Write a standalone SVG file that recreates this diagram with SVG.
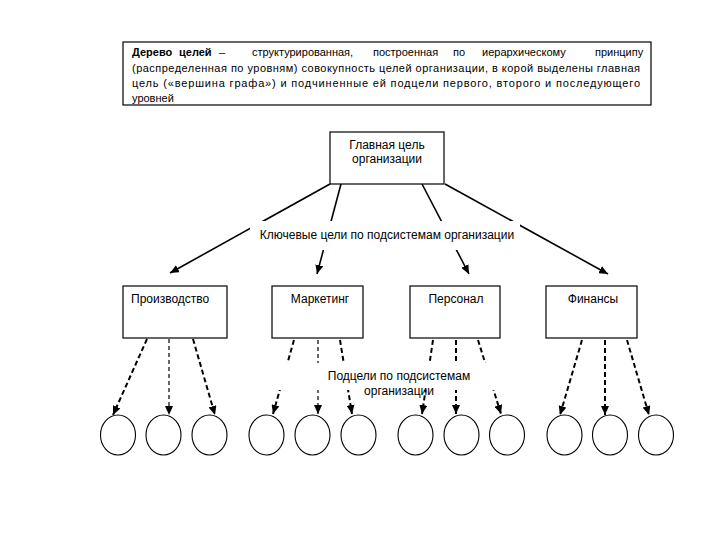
<svg xmlns="http://www.w3.org/2000/svg" width="720" height="540" viewBox="0 0 720 540">
<defs>
<style>
text{font-family:"Liberation Sans",Arial,sans-serif;fill:#000}
.t{font-size:11px}
.n{font-size:12px}
.box{fill:#fff;stroke:#000;stroke-width:1.2}
.c{fill:#fff;stroke:#000;stroke-width:1.1}
.main{stroke:#000;stroke-width:1.6;fill:none;marker-end:url(#ah)}
.d{stroke:#000;stroke-width:2;stroke-dasharray:5 3;fill:none;marker-end:url(#ah)}
.dt{stroke:#000;stroke-width:1.2;stroke-dasharray:4 3;fill:none;marker-end:url(#ah)}
.mask{fill:#fff;stroke:none}
</style>
<marker id="ah" markerUnits="userSpaceOnUse" markerWidth="10" markerHeight="8" refX="9" refY="4" orient="auto">
<path d="M0,0 L9,4 L0,8 z" fill="#000"/>
</marker>
</defs>
<rect width="720" height="540" fill="#fff"/>

<g id="definition">
<rect class="box" x="123" y="42" width="528" height="63"/>
<text class="t" y="56"><tspan x="132" font-weight="bold">Дерево</tspan><tspan x="179" font-weight="bold">целей</tspan><tspan x="219">–</tspan><tspan x="252">структурированная,</tspan><tspan x="373">построенная</tspan><tspan x="453">по</tspan><tspan x="482">иерархическому</tspan><tspan x="595">принципу</tspan></text>
<text class="t" x="132" y="72" textLength="508" lengthAdjust="spacing">(распределенная по уровням) совокупность целей организации, в корой выделены главная</text>
<text class="t" x="132" y="87" textLength="508" lengthAdjust="spacing">цель («вершина графа») и подчиненные ей подцели первого, второго и последующего</text>
<text class="t" x="132" y="102">уровней</text>
</g>

<g id="connectors">
<line class="main" x1="330" y1="184" x2="170" y2="273"/>
<line class="main" x1="341" y1="184" x2="317" y2="274"/>
<line class="main" x1="422" y1="184" x2="469" y2="274"/>
<line class="main" x1="445" y1="184" x2="608" y2="274"/>

<line class="d" x1="147" y1="339" x2="113" y2="415"/>
<line class="dt" x1="169" y1="339" x2="169" y2="415"/>
<line class="d" x1="193" y1="339" x2="215" y2="415"/>

<line class="d" x1="294" y1="340" x2="273" y2="414"/>
<line class="dt" x1="318" y1="340" x2="318" y2="414"/>
<line class="d" x1="340" y1="340" x2="352" y2="414"/>

<line class="d" x1="433" y1="340" x2="422" y2="414"/>
<line class="d" x1="456" y1="340" x2="456" y2="414"/>
<line class="d" x1="478" y1="340" x2="501" y2="414"/>

<line class="d" x1="582" y1="340" x2="560" y2="415"/>
<line class="d" x1="605" y1="340" x2="605" y2="415"/>
<line class="d" x1="627" y1="340" x2="649" y2="415"/>
</g>

<g id="main-goal">
<rect class="box" x="330" y="132" width="114" height="52"/>
<text class="n" x="387" y="149" text-anchor="middle">Главная цель</text>
<text class="n" x="387" y="163" text-anchor="middle">организации</text>
</g>

<g id="key-goals-label">
<rect class="mask" x="250" y="221" width="270" height="29"/>
<text class="n" x="387" y="239" text-anchor="middle">Ключевые цели по подсистемам организации</text>
</g>

<g id="production">
<rect class="box" x="123" y="286" width="104" height="52"/>
<text class="n" x="131" y="303">Производство</text>
</g>
<g id="marketing">
<rect class="box" x="272" y="286" width="91" height="52"/>
<text class="n" x="320" y="303" text-anchor="middle">Маркетинг</text>
</g>
<g id="personnel">
<rect class="box" x="410" y="286" width="90" height="52"/>
<text class="n" x="456" y="303" text-anchor="middle">Персонал</text>
</g>
<g id="finance">
<rect class="box" x="546" y="286" width="91" height="52"/>
<text class="n" x="593" y="303" text-anchor="middle">Финансы</text>
</g>

<g id="subgoals-label">
<rect class="mask" x="276" y="363" width="224" height="27"/>
<text class="n" x="399" y="380" text-anchor="middle">Подцели по подсистемам</text>
<text class="n" x="399" y="395" text-anchor="middle">организации</text>
</g>

<g id="subgoals">
<ellipse class="c" cx="118" cy="435" rx="17.5" ry="20"/>
<ellipse class="c" cx="163.5" cy="435" rx="17.5" ry="20"/>
<ellipse class="c" cx="209.5" cy="435" rx="17.5" ry="20"/>
<ellipse class="c" cx="266.5" cy="435" rx="17.5" ry="20"/>
<ellipse class="c" cx="312.5" cy="435" rx="17.5" ry="20"/>
<ellipse class="c" cx="358.5" cy="435" rx="17.5" ry="20"/>
<ellipse class="c" cx="415.5" cy="435" rx="17.5" ry="20"/>
<ellipse class="c" cx="461.5" cy="435" rx="17.5" ry="20"/>
<ellipse class="c" cx="507" cy="435" rx="17.5" ry="20"/>
<ellipse class="c" cx="564.5" cy="435" rx="17.5" ry="20"/>
<ellipse class="c" cx="610" cy="435" rx="17.5" ry="20"/>
<ellipse class="c" cx="656" cy="435" rx="17.5" ry="20"/>
</g>
</svg>
